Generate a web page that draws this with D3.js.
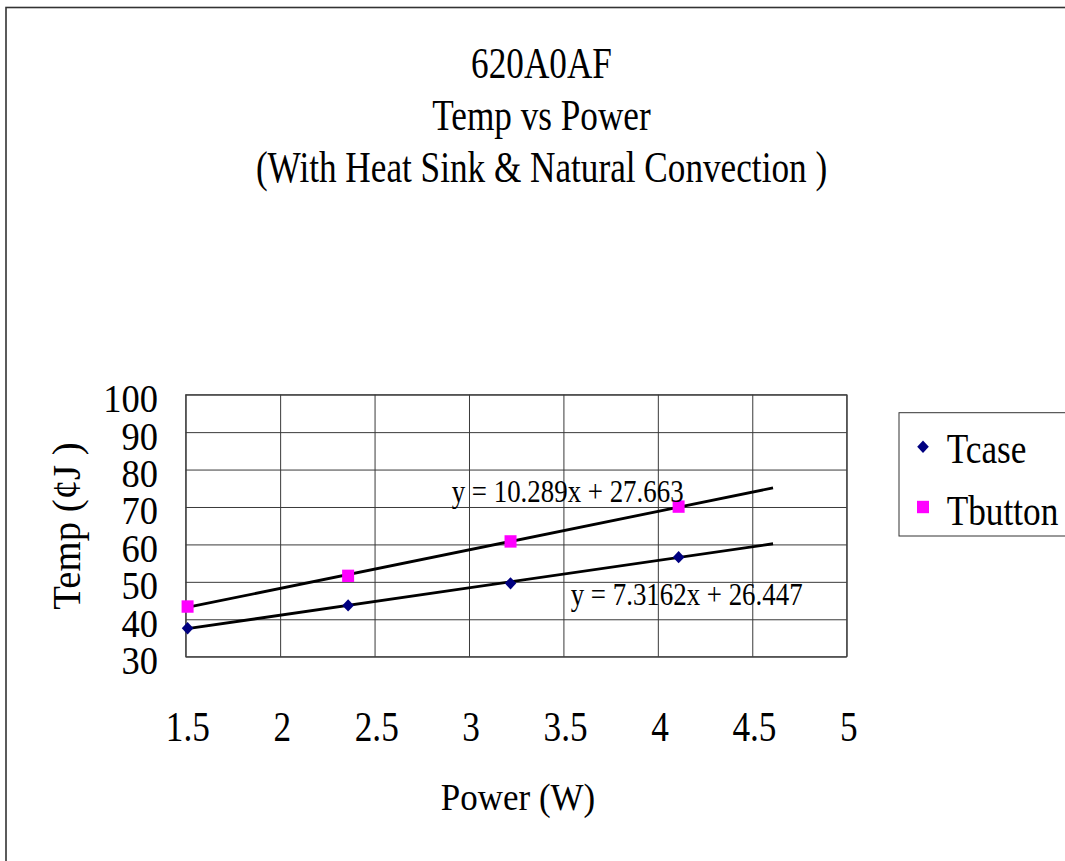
<!DOCTYPE html>
<html>
<head>
<meta charset="utf-8">
<style>
    body { margin: 0; background: white; }
    svg { display: block; }
    text { font-family: 'Liberation Serif', 'Times New Roman', serif; fill: black; }
</style>
</head>
<body>
<svg width="1065" height="861"></svg>

<script src="https://d3js.org/d3.v7.min.js"></script>
<script>

    // data
    let titleLines = ["620A0AF", "Temp vs Power", "(With Heat Sink & Natural Convection )"]
    let power = [1.51, 2.36, 3.22, 4.11]
    let tcase = [37.6, 43.7, 49.6, 56.6]
    let tbutton = [43.4, 51.6, 60.8, 70.1]
    let xTicks = [1.5, 2, 2.5, 3, 3.5, 4, 4.5, 5]
    let yTicks = [30, 40, 50, 60, 70, 80, 90, 100]
    let trendSlopes = [7.3162, 10.289]
    let trendIntercepts = [26.447, 27.663]
    let trendLabels = ["y = 7.3162x + 26.447", "y = 10.289x + 27.663"]
    let trendRange = [1.5, 4.61]

    let svg = d3.select("svg")

    let plotL = 185.7, plotR = 846.7, plotT = 394.7, plotB = 656.7

    let x = d3.scaleLinear().domain([1.5, 5]).range([plotL, plotR])
    let y = d3.scaleLinear().domain([30, 100]).range([plotB, plotT])

    // outer frame (cut off at right and bottom)
    svg.append("rect")
        .attr("x", 6).attr("y", 7.5)
        .attr("width", 1100).attr("height", 900)
        .style("fill", "none")
        .style("stroke", "#333")
        .style("stroke-width", 1.6)

    // narrow serif text, squeezed horizontally
    function label(g, txt, tx, ty, size, k, anchor, rot) {
        return g.append("text")
            .attr("transform", `translate(${tx},${ty})` + (rot ? ` rotate(${rot})` : "") + ` scale(${k},1)`)
            .attr("text-anchor", anchor)
            .style("font-size", size + "px")
            .text(txt)
    }

    // titles
    let titleY = [77.5, 129.5, 181.7]
    titleLines.forEach((t, i) => label(svg, t, 541.5, titleY[i], 44, 0.8, "middle"))

    // grid + y axis
    let yAxis = svg.append("g")
        .attr("transform", `translate(${plotL},0)`)
        .call(d3.axisLeft(y).tickValues(yTicks).tickSize(-(plotR - plotL)).tickFormat(d3.format("d")))
    yAxis.select(".domain").remove()
    yAxis.selectAll("line").style("stroke", "#3a3a3a")
    yAxis.selectAll("text")
        .attr("x", -27.7 / 0.89).attr("dy", null).attr("y", 17)
        .attr("transform", "scale(0.89,1)")
        .style("font-size", "41px")
        .style("font-family", "'Liberation Serif', 'Times New Roman', serif")

    let xAxis = svg.append("g")
        .attr("transform", `translate(0,${plotB})`)
        .call(d3.axisBottom(x).tickValues(xTicks).tickSize(-(plotB - plotT)).tickFormat(d => d))
    xAxis.select(".domain").remove()
    xAxis.selectAll("line").style("stroke", "#3a3a3a")
    xAxis.selectAll("text")
        .attr("x", 2).attr("dy", null).attr("y", 84)
        .attr("transform", "scale(0.84,1)")
        .style("font-size", "42px")
        .style("font-family", "'Liberation Serif', 'Times New Roman', serif")

    // plot frame
    svg.append("rect")
        .attr("x", plotL).attr("y", plotT)
        .attr("width", plotR - plotL).attr("height", plotB - plotT)
        .style("fill", "none")
        .style("stroke", "#3a3a3a")

    // axis titles
    label(svg, "Temp (¢J )", 80, 526, 40, 0.97, "middle", -90)
    label(svg, "Power (W)", 518, 810, 38, 0.92, "middle")

    // trend lines
    let line = d3.line().x(d => x(d[0])).y(d => y(d[1]))
    trendSlopes.forEach((m, i) => {
        svg.append("path")
            .attr("d", line(trendRange.map(p => [p, m * p + trendIntercepts[i]])))
            .style("fill", "none")
            .style("stroke", "black")
            .style("stroke-width", 2.8)
    })

    // markers
    let diamond = "M0,-6.2L5.8,0L0,6.2L-5.8,0Z"
    let square = "M-6,-6.2H6V6.2H-6Z"

    svg.append("g").selectAll("path")
        .data(power.map((p, i) => [p, tbutton[i]]))
        .join("path")
        .attr("d", square)
        .attr("transform", d => `translate(${x(d[0])},${y(d[1])})`)
        .style("fill", "#ff00ff")

    svg.append("g").selectAll("path")
        .data(power.map((p, i) => [p, tcase[i]]))
        .join("path")
        .attr("d", diamond)
        .attr("transform", d => `translate(${x(d[0])},${y(d[1])})`)
        .style("fill", "#000080")

    // equation labels
    label(svg, trendLabels[1], 451.7, 501.7, 32, 0.84, "start")
    label(svg, trendLabels[0], 570.7, 605, 32, 0.84, "start")

    // legend
    svg.append("rect")
        .attr("x", 899).attr("y", 412.7)
        .attr("width", 200).attr("height", 123.3)
        .style("fill", "white")
        .style("stroke", "#333")

    svg.append("path").attr("d", diamond)
        .attr("transform", "translate(923,446.7)")
        .style("fill", "#000080")
    svg.append("path").attr("d", square)
        .attr("transform", "translate(923,507)")
        .style("fill", "#ff00ff")

    label(svg, "Tcase", 946.7, 463, 43, 0.82, "start")
    label(svg, "Tbutton", 946.7, 525, 43, 0.82, "start")

</script>
</body>
</html>
